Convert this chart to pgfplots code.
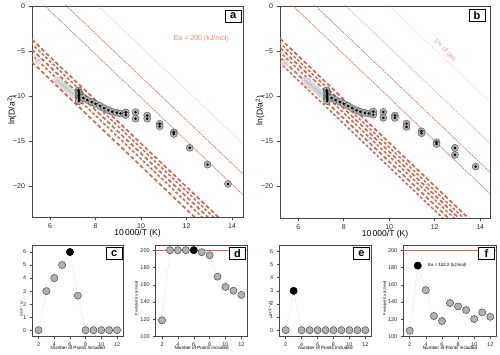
\documentclass[border=0pt]{standalone}
\usepackage{fontspec}
\setmainfont{Liberation Sans}
\usepackage{pgfplots}
\usepackage{pgfplotstable}
\pgfplotsset{compat=1.18}

\definecolor{sal}{RGB}{200,105,80}
\definecolor{saltext}{RGB}{218,140,120}
\definecolor{redline}{RGB}{235,85,85}
\definecolor{frame}{RGB}{70,70,70}

% data
\pgfplotstableread{
x y
5.49 -6.10
6.30 -8.25
6.38 -8.41
6.46 -8.58
6.54 -8.74
6.62 -8.91
6.70 -9.07
6.78 -9.24
6.86 -9.40
6.94 -9.57
7.02 -9.73
7.10 -9.90
}\agrey
\pgfplotstableread{
x y
7.25 -9.35
7.27 -9.55
7.28 -9.75
7.26 -9.95
7.27 -10.15
7.28 -10.35
7.27 -10.55
7.46 -10.20
7.64 -10.42
7.83 -10.64
8.00 -10.84
8.19 -11.08
8.37 -11.33
8.56 -11.55
8.73 -11.72
8.93 -11.84
9.10 -11.92
9.33 -11.80
9.33 -12.10
9.76 -11.78
9.76 -12.50
10.27 -12.15
10.27 -12.50
10.82 -13.07
10.82 -13.35
11.44 -14.00
11.44 -14.20
12.14 -15.73
12.92 -17.59
13.82 -19.73
}\ablack
\pgfplotstableread{
x y
5.42 -6.30
6.30 -8.25
6.38 -8.41
6.46 -8.58
6.54 -8.74
6.62 -8.91
6.70 -9.07
6.78 -9.24
6.86 -9.40
6.94 -9.57
7.02 -9.73
7.10 -9.90
}\bgrey
\pgfplotstableread{
x y
7.25 -9.35
7.27 -9.55
7.28 -9.75
7.26 -9.95
7.27 -10.15
7.28 -10.35
7.27 -10.55
7.46 -10.20
7.64 -10.42
7.83 -10.64
8.00 -10.84
8.19 -11.08
8.37 -11.33
8.56 -11.55
8.73 -11.72
8.93 -11.84
9.10 -11.92
9.30 -11.70
9.30 -12.05
9.74 -11.74
9.74 -12.40
10.25 -12.14
10.25 -12.40
10.76 -13.03
10.76 -13.40
11.42 -13.89
11.42 -14.10
12.08 -15.10
12.08 -15.30
12.89 -15.73
12.89 -16.50
13.80 -17.80
}\bblack

\tikzset{
  letter/.style={draw=black, line width=0.8pt, fill=white, font=\fontsize{11}{11}\selectfont\bfseries,
    minimum width=16pt, minimum height=12pt, inner sep=0pt},
}
\pgfplotsset{
  mainax/.style={scale only axis, anchor=south west, clip mode=individual,
    xtick={6,8,10,12,14}, ytick={-20,-15,-10,-5,0}, yticklabels={−20,−15,−10,−5,0},
    xtick pos=left, ytick pos=left, tick align=outside, major tick length=3.5pt,
    tick style={frame, line width=0.6pt}, axis line style={frame, line width=0.7pt},
    tick label style={font=\fontsize{7}{8}\selectfont, text=black!85},
    /pgf/number format/assume math mode=true,
    xlabel={10\,000/T (K)}, ylabel={ln(D/a\textsuperscript{2})},
    label style={font=\fontsize{8.5}{10}\selectfont},
    xlabel style={at={(axis description cs:0.5,-0.077)}, anchor=center},
    ylabel style={at={(axis description cs:-0.095,0.507)}, anchor=center}},
  smallax/.style={scale only axis, anchor=south west, height=91.7pt, clip mode=individual,
    xmin=1.2, xmax=12.8, xtick={2,4,6,8,10,12},
    xtick pos=left, ytick pos=left, tick align=outside, major tick length=2.5pt,
    tick style={frame, line width=0.5pt}, axis line style={frame, line width=0.7pt},
    tick label style={font=\fontsize{5.5}{6}\selectfont, text=black!85},
    /pgf/number format/assume math mode=true,
    xlabel={Number of Points Included},
    xlabel style={font=\fontsize{4.6}{5}\selectfont, at={(axis description cs:0.5,-0.127)}, anchor=center},
    ylabel style={font=\fontsize{3.6}{4}\selectfont, anchor=center}},
  upline/.style={sal, line width=0.6pt, dash pattern=on 1.6pt off 0.8pt},
  bundle/.style={sal, line width=1.7pt, dash pattern=on 4pt off 2.5pt},
  bundleb/.style={sal, line width=1.5pt, dash pattern=on 3pt off 2pt},
  halo/.style={only marks, mark=*, mark size=3.5pt, mark options={fill=gray!58, draw=black!65, line width=0.5pt}},
  dot/.style={only marks, mark=*, mark size=1.1pt, mark options={fill=black, draw=black}},
  ghalo/.style={only marks, mark=*, mark size=3.4pt, mark options={fill=gray!22, draw=gray!40, line width=0.4pt}},
  gdot/.style={only marks, mark=*, mark size=1pt, mark options={fill=gray!45, draw=gray!45}},
  conn/.style={gray!55, line width=0.4pt, densely dotted, mark=*, mark size=3.6pt,
    mark options={solid, fill=black!30, draw=black!75, line width=0.45pt}},
  best/.style={only marks, mark=*, mark size=3.6pt, mark options={fill=black, draw=black}},
}

\begin{document}
\begin{tikzpicture}
\useasboundingbox (0,0) rectangle (500pt,355pt);

% ---- panel a
\begin{axis}[mainax, at={(32pt,138pt)}, width=211pt, height=211pt,
  xmin=5.21, xmax=14.48, ymin=-23.4, ymax=0]
\addplot[upline] coordinates {(5,1.87)(15,-22.18)};
\addplot[upline] coordinates {(5,4.16)(15,-19.89)};
\addplot[upline, opacity=0.35] coordinates {(5,7.50)(15,-16.55)};
\addplot[bundle] coordinates {(5,-3.23)(15,-27.28)};
\addplot[bundleb] coordinates {(5,-3.73)(15,-27.78)};
\addplot[bundle] coordinates {(5,-4.33)(15,-28.38)};
\addplot[bundleb] coordinates {(5,-4.93)(15,-28.98)};
\addplot[bundle] coordinates {(5,-5.73)(15,-29.78)};
\addplot[ghalo] table {\agrey};
\addplot[gdot] table {\agrey};
\addplot[halo] table {\ablack};
\addplot[dot] table {\ablack};
\node[text=saltext, font=\fontsize{7}{8}\selectfont] at (axis cs:12.65,-3.6) {Ea = 200 (kJ/mol)};
\node[letter] at (rel axis cs:0.953,0.953) {a};
\end{axis}

% ---- panel b
\begin{axis}[mainax, at={(280pt,137pt)}, width=210pt, height=212pt,
  xmin=5.2, xmax=14.43, ymin=-23.5, ymax=0]
\addplot[upline] coordinates {(5,1.87)(15,-22.18)};
\addplot[upline] coordinates {(5,4.25)(15,-19.80)};
\addplot[upline, opacity=0.55] coordinates {(5,7.45)(15,-16.60)};
\addplot[upline, opacity=0.25] coordinates {(5,12.03)(15,-12.03)};
\addplot[bundle] coordinates {(5,-3.13)(15,-27.18)};
\addplot[bundleb] coordinates {(5,-3.63)(15,-27.68)};
\addplot[bundle] coordinates {(5,-4.13)(15,-28.18)};
\addplot[bundleb] coordinates {(5,-4.63)(15,-28.68)};
\addplot[bundle] coordinates {(5,-5.23)(15,-29.28)};
\addplot[bundleb] coordinates {(5,-5.83)(15,-29.88)};
\addplot[ghalo] table {\bgrey};
\addplot[gdot] table {\bgrey};
\addplot[halo] table {\bblack};
\addplot[dot] table {\bblack};
\node[text=saltext, opacity=0.8, rotate=-45, font=\fontsize{6.5}{7}\selectfont] at (axis cs:12.45,-4.9) {1\% of gas};
\node[letter] at (rel axis cs:0.938,0.954) {b};
\end{axis}

% ---- panel c
\begin{axis}[smallax, at={(32.3pt,18.3pt)}, width=91pt, ymin=-0.5, ymax=6.54,
  ytick={0,1,2,3,4,5,6}, ylabel={GOF * N},
  ylabel style={at={(axis description cs:-0.116,0.3)}}]
\addplot[conn] coordinates {(2,0)(3,3)(4,4)(5,5)(6,6)(7,2.65)(8,0)(9,0)(10,0)(11,0)(12,0)};
\addplot[best] coordinates {(6,6)};
\node[letter] at (rel axis cs:0.9,0.904) {c};
\end{axis}

% ---- panel d
\begin{axis}[smallax, at={(155.7pt,18.3pt)}, width=92pt, ymin=100, ymax=206,
  ytick={100,120,140,160,180,200}, ylabel={Predicted Ea (kJ/mol)},
  ylabel style={at={(axis description cs:-0.207,0.42)}}]
\addplot[redline, line width=0.9pt] coordinates {(0,200)(14,200)};
\addplot[conn] coordinates {(2,119)(3,200)(4,200)(5,200)(6,200)(7,197.7)(8,194.2)(9,169.4)(10,157.5)(11,153.2)(12,148.3)};
\addplot[best] coordinates {(6,200)};
\node[letter] at (rel axis cs:0.89,0.904) {d};
\end{axis}

% ---- panel e
\begin{axis}[smallax, at={(279.3pt,18.3pt)}, width=92.4pt, ymin=-0.5, ymax=6.5,
  ytick={0,1,2,3,4,5,6}, ylabel={GOF * N},
  ylabel style={at={(axis description cs:-0.1,0.3)}}]
\addplot[conn] coordinates {(2,0)(3,3)(4,0)(5,0)(6,0)(7,0)(8,0)(9,0)(10,0)(11,0)(12,0)};
\addplot[best] coordinates {(3,3)};
\node[letter] at (rel axis cs:0.89,0.904) {e};
\end{axis}

% ---- panel f
\begin{axis}[smallax, at={(403.3pt,18.3pt)}, width=93.4pt, ymin=100, ymax=206,
  ytick={100,120,140,160,180,200}, ylabel={Predicted Ea (kJ/mol)},
  ylabel style={at={(axis description cs:-0.196,0.42)}}]
\addplot[redline, line width=0.9pt] coordinates {(0,200)(14,200)};
\addplot[conn] coordinates {(2,106.9)(3,182.2)(4,153.8)(5,123.9)(6,118.1)(7,138.9)(8,135)(9,130.8)(10,120.4)(11,128.1)(12,123)};
\addplot[best] coordinates {(3,182.2)};
\node[anchor=west, font=\fontsize{4.4}{5}\selectfont] at (axis cs:3.85,182.2) {Ea = 182.2 (kJ/mol)};
\node[letter] at (rel axis cs:0.89,0.904) {f};
\end{axis}
\end{tikzpicture}
\end{document}
